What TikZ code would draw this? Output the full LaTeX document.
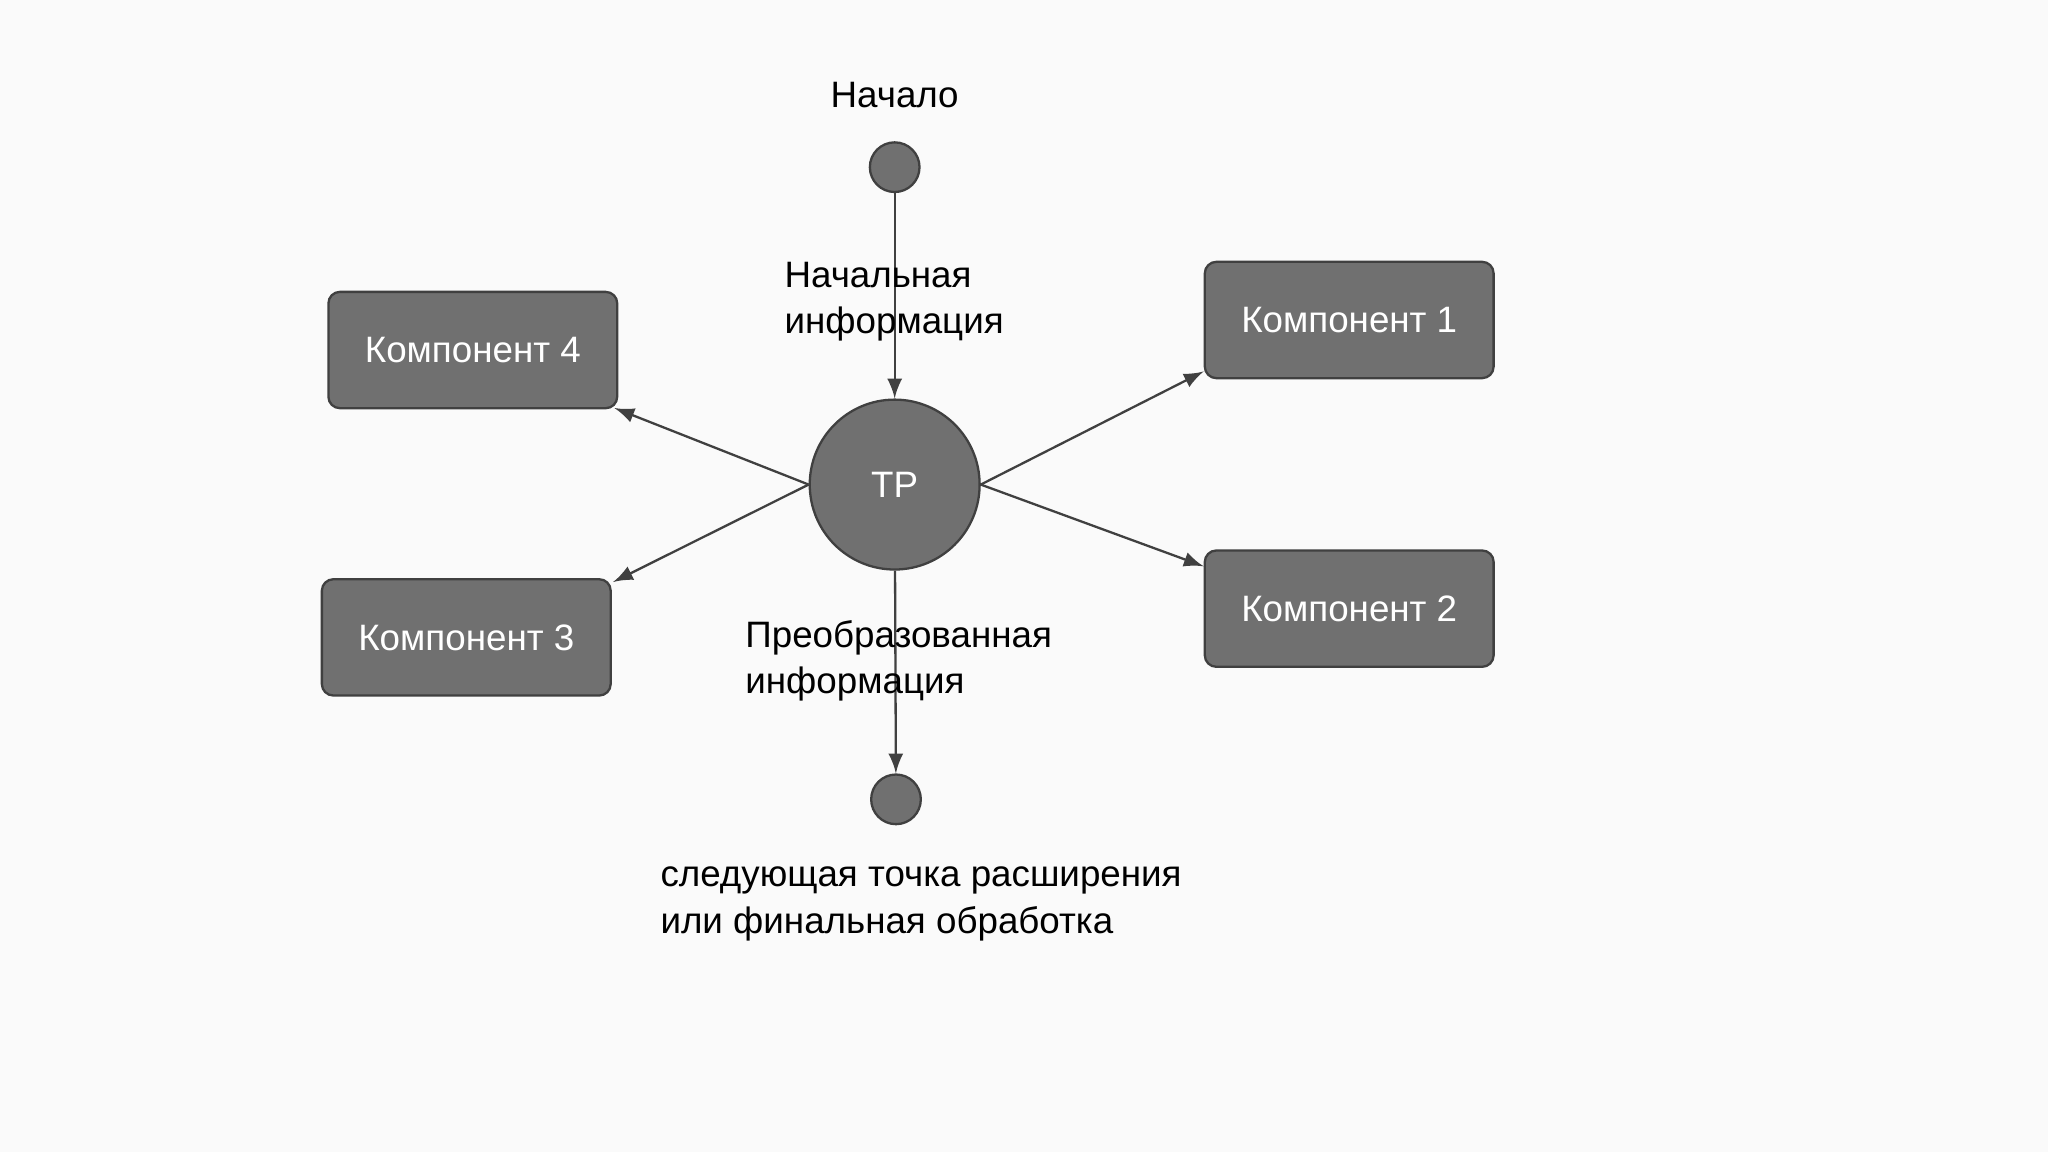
\documentclass[tikz,border=0pt]{standalone}
\usepackage{fontspec}
\setmainfont{Liberation Sans}
\begin{document}
\begin{tikzpicture}[x=0.01cm,y=-0.01cm,
  comp/.style={draw=black!75,fill=black!56,rounded corners=2.5pt,minimum width=2.21cm,minimum height=0.89cm,text=white,font=\fontsize{8pt}{10pt}\selectfont,line width=0.5pt},
  dot/.style={circle,draw=black!75,fill=black!56,minimum size=0.38cm,inner sep=0pt,line width=0.5pt},
  lbl/.style={align=left,font=\fontsize{8pt}{10.2pt}\selectfont,inner sep=0pt},
  arr/.style={-latex,draw=black!75,line width=0.5pt}]
\fill[black!2] (0,0) rectangle (1568,882);
\useasboundingbox (0,0) rectangle (1568,882);
\node[lbl] (start) at (685,73) {Начало};
\node[dot] (s) at (685,128) {};
\node[circle,draw=black!75,fill=black!56,minimum size=1.3cm,inner sep=0pt,text=white,font=\fontsize{8pt}{10pt}\selectfont,line width=0.5pt] (tp) at (685,371) {TP};
\node[dot] (e) at (686,612) {};
\node[comp] (k1) at (1033,245) {Компонент 1};
\node[comp] (k2) at (1033,466) {Компонент 2};
\node[comp] (k4) at (362,268) {Компонент 4};
\node[comp] (k3) at (357,488) {Компонент 3};
\draw[arr] (s) -- (tp);
\draw[arr] (tp) -- (e);
\draw[arr] (tp.west) -- ([xshift=-0.03cm,yshift=0.01cm]k4.south east);
\draw[arr] (tp.west) -- ([xshift=0.01cm,yshift=-0.03cm]k3.north east);
\draw[arr] (tp.east) -- ([yshift=0.06cm]k1.south west);
\draw[arr] (tp.east) -- ([yshift=-0.13cm]k2.north west);
\node[lbl,anchor=west] (l1) at (600,231) {Начальная\\информация};
\node[lbl,anchor=west] (l2) at (570,506) {Преобразованная\\информация};
\node[lbl,anchor=west] (l3) at (505,692) {следующая точка расширения\\или финальная обработка};
\end{tikzpicture}
\end{document}
